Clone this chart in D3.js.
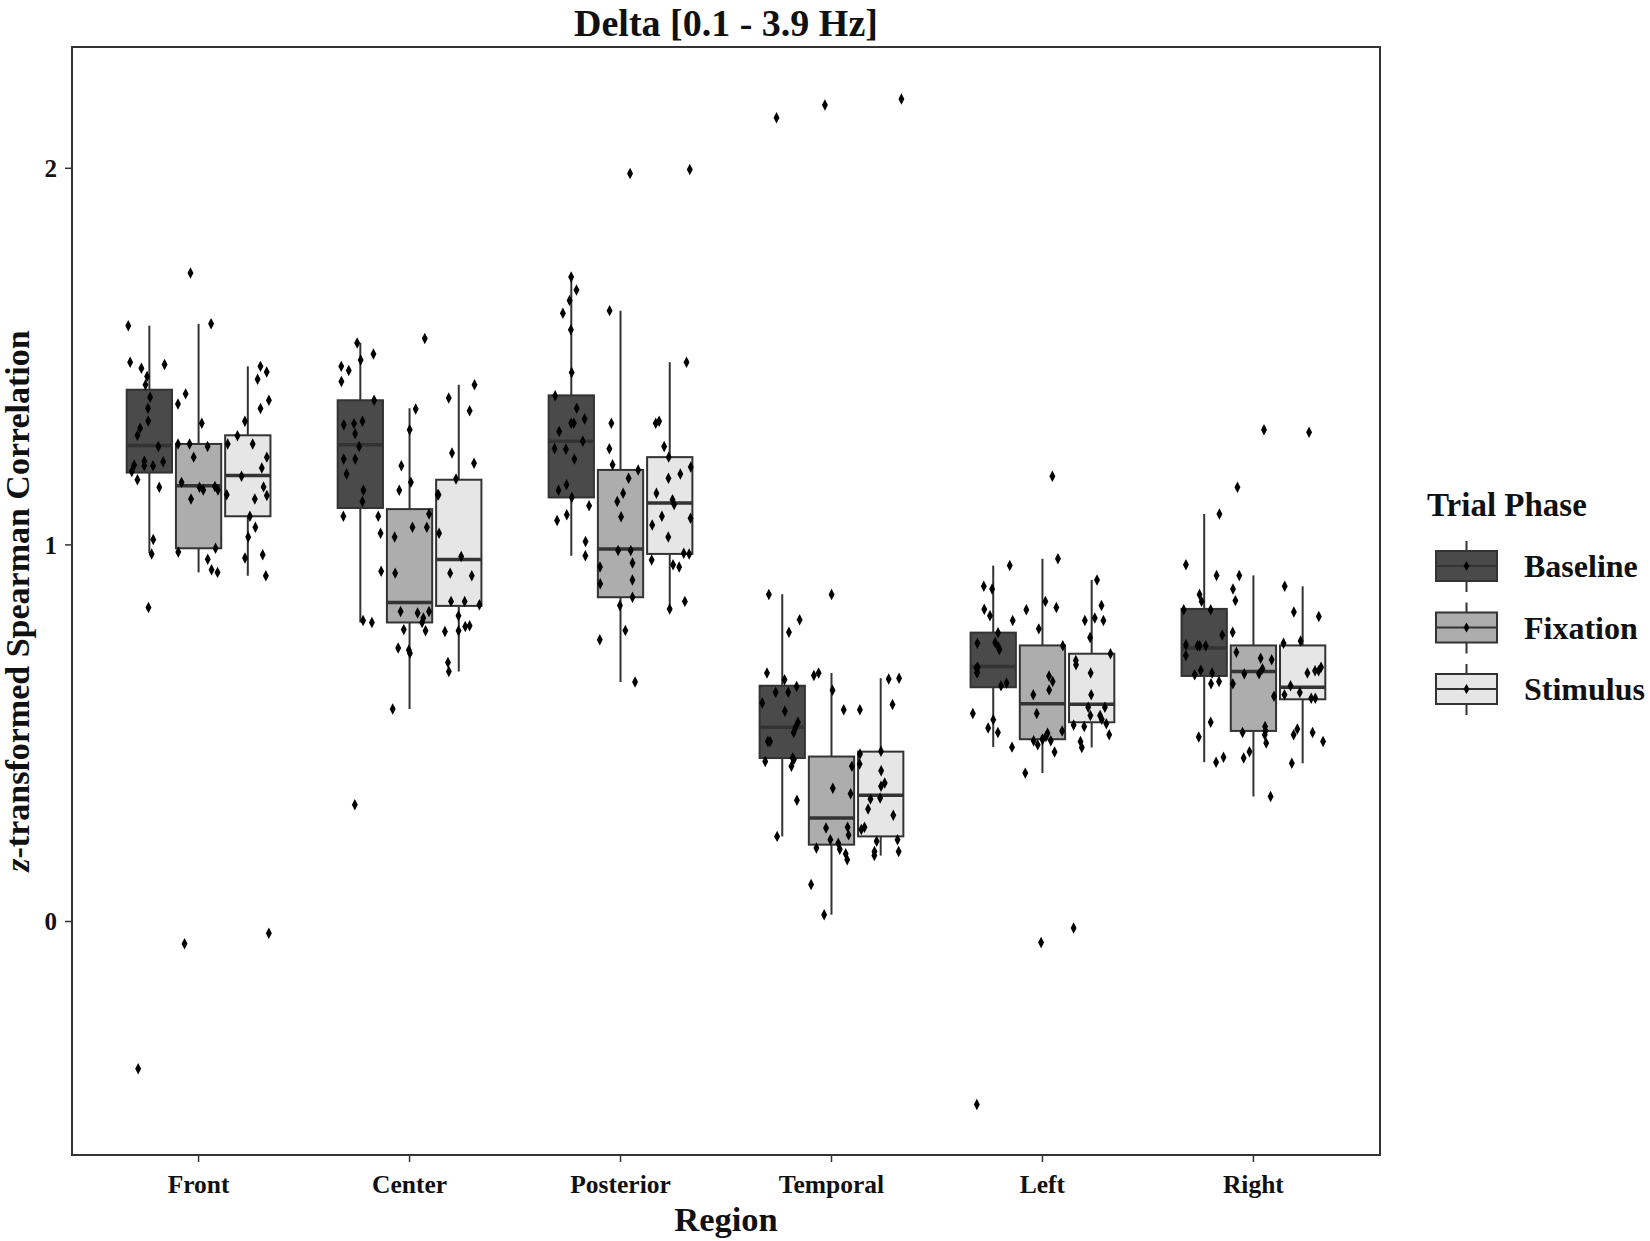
<!DOCTYPE html>
<html>
<head>
<meta charset="utf-8">
<script src="https://cdn.jsdelivr.net/npm/d3@7"></script>
<style>
  body { margin: 0; background: #fff; }
  text { font-family: "Liberation Serif", "Times New Roman", serif; font-weight: bold; fill: #111; }
</style>
</head>
<body>
<svg id="chart" width="1650" height="1241"></svg>
<script>
// categories
const regions = ['Front', 'Center', 'Posterior', 'Temporal', 'Left', 'Right'];
const phases = ['Baseline', 'Fixation', 'Stimulus'];
const yTicks = [0, 1, 2];

// box stats per region: [whisker low, q1, median, q3, whisker high]
const boxBaseline = [
  [0.978, 1.192, 1.264, 1.412, 1.582],
  [0.794, 1.098, 1.266, 1.384, 1.537],
  [0.971, 1.126, 1.275, 1.397, 1.711],
  [0.226, 0.434, 0.516, 0.626, 0.869],
  [0.463, 0.622, 0.677, 0.767, 0.945],
  [0.423, 0.652, 0.726, 0.830, 1.082]
];
const boxFixation = [
  [0.927, 0.991, 1.157, 1.268, 1.587],
  [0.564, 0.794, 0.847, 1.095, 1.363],
  [0.636, 0.861, 0.989, 1.199, 1.622],
  [0.018, 0.204, 0.275, 0.438, 0.660],
  [0.394, 0.484, 0.578, 0.733, 0.963],
  [0.332, 0.506, 0.664, 0.733, 0.919]
];
const boxStimulus = [
  [0.918, 1.076, 1.184, 1.291, 1.474],
  [0.664, 0.838, 0.961, 1.173, 1.425],
  [0.830, 0.976, 1.111, 1.233, 1.485],
  [0.175, 0.226, 0.335, 0.451, 0.646],
  [0.462, 0.529, 0.577, 0.711, 0.907],
  [0.420, 0.590, 0.622, 0.733, 0.890]
];

// individual observations per region: [Baseline, Fixation, Stimulus]
const ptsFront = [
  [1.582, 1.447, 1.469, 1.485, 1.479, 1.425, 1.392, 1.363, 1.329, 1.310, 1.291, 1.261, 1.212, 1.210, 1.210, 1.221, 1.222, 1.195, 1.173, 1.153, 1.014, 0.976, 0.834, -0.391],
  [1.722, 1.587, 1.374, 1.401, 1.323, 1.261, 1.268, 1.233, 1.155, 1.153, 1.166, 1.146, 1.146, 1.122, 0.991, 0.981, 0.962, 0.934, 0.927, 1.268, -0.059],
  [1.474, 1.459, 1.440, 1.384, 1.362, 1.328, 1.290, 1.268, 1.268, 1.233, 1.204, 1.182, 1.154, 1.133, 1.122, 1.131, 1.076, 1.047, 1.021, 0.974, 0.965, 0.918, -0.031]
];
const ptsCenter = [
  [1.536, 1.507, 1.491, 1.463, 1.474, 1.434, 1.384, 1.319, 1.322, 1.328, 1.295, 1.261, 1.228, 1.228, 1.188, 1.145, 1.115, 1.076, 1.076, 1.031, 0.930, 0.794, 0.799, 0.310],
  [1.548, 1.361, 1.306, 1.210, 1.166, 1.145, 1.082, 1.047, 1.047, 1.021, 0.925, 0.823, 0.819, 0.823, 0.806, 0.775, 0.772, 0.721, 0.712, 0.726, 0.564, 0.794],
  [1.425, 1.390, 1.356, 1.244, 1.217, 1.175, 1.133, 1.133, 1.031, 0.969, 0.925, 0.918, 0.850, 0.850, 0.841, 0.812, 0.785, 0.770, 0.783, 0.772, 0.688, 0.664]
];
const ptsPosterior = [
  [1.711, 1.677, 1.649, 1.615, 1.571, 1.458, 1.396, 1.363, 1.334, 1.323, 1.323, 1.301, 1.275, 1.254, 1.256, 1.228, 1.160, 1.145, 1.126, 1.104, 1.080, 1.065, 1.009, 0.971],
  [1.986, 1.622, 1.323, 1.255, 1.213, 1.199, 1.177, 1.137, 1.115, 1.075, 0.985, 0.985, 0.941, 0.952, 0.907, 0.897, 0.861, 0.839, 0.773, 0.748, 0.636],
  [1.997, 1.485, 1.328, 1.323, 1.261, 1.233, 1.207, 1.188, 1.177, 1.137, 1.120, 1.107, 1.071, 1.076, 1.053, 1.021, 0.976, 0.978, 0.960, 0.947, 0.941, 0.850, 0.830]
];
const ptsTemporal = [
  [2.134, 0.868, 0.801, 0.768, 0.660, 0.642, 0.609, 0.609, 0.624, 0.580, 0.558, 0.529, 0.514, 0.502, 0.478, 0.478, 0.434, 0.430, 0.425, 0.412, 0.322, 0.226],
  [2.168, 0.868, 0.660, 0.653, 0.614, 0.562, 0.412, 0.354, 0.339, 0.250, 0.248, 0.230, 0.217, 0.208, 0.192, 0.180, 0.195, 0.164, 0.098, 0.018],
  [2.184, 0.644, 0.646, 0.576, 0.562, 0.445, 0.452, 0.418, 0.400, 0.368, 0.359, 0.328, 0.325, 0.299, 0.282, 0.250, 0.244, 0.217, 0.213, 0.186, 0.186, 0.175]
];
const ptsLeft = [
  [0.945, 0.890, 0.883, 0.812, 0.829, 0.799, 0.767, 0.739, 0.741, 0.729, 0.722, 0.673, 0.675, 0.661, 0.661, 0.633, 0.626, 0.552, 0.536, 0.514, 0.502, 0.463, -0.486],
  [1.182, 0.963, 0.834, 0.850, 0.828, 0.777, 0.732, 0.652, 0.637, 0.615, 0.602, 0.552, 0.506, 0.500, 0.491, 0.484, 0.484, 0.480, 0.480, 0.469, 0.450, 0.394, -0.056],
  [0.907, 0.839, 0.806, 0.799, 0.799, 0.754, 0.711, 0.693, 0.682, 0.660, 0.602, 0.569, 0.569, 0.547, 0.547, 0.537, 0.525, 0.522, 0.518, 0.496, 0.478, 0.462, -0.017]
];
const ptsRight = [
  [1.082, 0.947, 0.919, 0.868, 0.850, 0.828, 0.828, 0.761, 0.732, 0.735, 0.732, 0.732, 0.706, 0.660, 0.655, 0.667, 0.631, 0.637, 0.529, 0.490, 0.423, 0.436],
  [1.306, 1.153, 0.919, 0.883, 0.852, 0.768, 0.715, 0.695, 0.699, 0.671, 0.658, 0.658, 0.631, 0.598, 0.502, 0.496, 0.518, 0.506, 0.474, 0.451, 0.434, 0.332],
  [1.299, 0.890, 0.822, 0.810, 0.739, 0.745, 0.666, 0.666, 0.675, 0.660, 0.626, 0.593, 0.602, 0.608, 0.593, 0.502, 0.478, 0.496, 0.511, 0.420]
];

const phaseFill = { Baseline: '#4a4a4a', Fixation: '#adadad', Stimulus: '#e6e6e6' };
const lineCol = '#333';

// panel bounds
const panelL = 72, panelR = 1380, panelT = 47, panelB = 1155;

const svg = d3.select('#chart');

const x = d3.scalePoint().domain(regions).range([panelL, panelR]).padding(0.6);
const step = x.step();
const dodge = d3.scaleBand().domain(phases)
  .range([-0.35 * step, 0.35 * step])
  .paddingInner(0.08).paddingOuter(0.04);
const y = d3.scaleLinear().domain([-0.62, 2.322]).range([panelB, panelT]);

const boxes = [boxBaseline, boxFixation, boxStimulus];
const points = [ptsFront, ptsCenter, ptsPosterior, ptsTemporal, ptsLeft, ptsRight];

// simple seeded jitter so the picture is stable between runs
let seed = 11;
const rand = () => (seed = (seed * 16807) % 2147483647) / 2147483647;

const plot = svg.append('g');

regions.forEach((reg, ri) => {
  phases.forEach((ph, pi) => {
    const [lo, q1, med, q3, hi] = boxes[pi][ri];
    const x0 = x(reg) + dodge(ph);
    const bw = dodge.bandwidth();
    const cx = x0 + bw / 2;
    const g = plot.append('g').attr('class', 'box');

    g.append('line')
      .attr('x1', cx).attr('x2', cx)
      .attr('y1', y(hi)).attr('y2', y(lo))
      .style('stroke', lineCol).style('stroke-width', 2);
    g.append('rect')
      .attr('x', x0).attr('width', bw)
      .attr('y', y(q3)).attr('height', y(q1) - y(q3))
      .style('fill', phaseFill[ph])
      .style('stroke', lineCol).style('stroke-width', 2);
    g.append('line')
      .attr('x1', x0).attr('x2', x0 + bw)
      .attr('y1', y(med)).attr('y2', y(med))
      .style('stroke', lineCol).style('stroke-width', 3.5);
  });
});

// jittered observations on top
regions.forEach((reg, ri) => {
  phases.forEach((ph, pi) => {
    const cx = x(reg) + dodge(ph) + dodge.bandwidth() / 2;
    points[ri][pi].forEach(v => {
      const jx = (rand() * 2 - 1) * 0.1 * step;
      plot.append('path')
        .attr('d', d3.symbol(d3.symbolDiamond, 38)())
        .attr('transform', `translate(${cx + jx},${y(v)}) scale(0.9,1)`)
        .style('fill', '#000');
    });
  });
});

// panel border
svg.append('rect')
  .attr('x', panelL).attr('y', panelT)
  .attr('width', panelR - panelL).attr('height', panelB - panelT)
  .style('fill', 'none').style('stroke', lineCol).style('stroke-width', 2);

// y axis
const yAxis = svg.append('g');
yTicks.forEach(t => {
  yAxis.append('line')
    .attr('x1', panelL - 7).attr('x2', panelL)
    .attr('y1', y(t)).attr('y2', y(t))
    .style('stroke', lineCol).style('stroke-width', 1.5);
  yAxis.append('text')
    .attr('x', panelL - 15).attr('y', y(t)).attr('dy', '0.35em')
    .attr('text-anchor', 'end').style('font-size', '25px')
    .text(t);
});

// x axis
const xAxis = svg.append('g');
regions.forEach(reg => {
  xAxis.append('line')
    .attr('x1', x(reg)).attr('x2', x(reg))
    .attr('y1', panelB).attr('y2', panelB + 7)
    .style('stroke', lineCol).style('stroke-width', 1.5);
  xAxis.append('text')
    .attr('x', x(reg)).attr('y', panelB + 38)
    .attr('text-anchor', 'middle').style('font-size', '25.5px')
    .text(reg);
});

// titles
svg.append('text')
  .attr('x', (panelL + panelR) / 2).attr('y', 36)
  .attr('text-anchor', 'middle').style('font-size', '38px')
  .text('Delta [0.1 - 3.9 Hz]');

svg.append('text')
  .attr('x', (panelL + panelR) / 2).attr('y', 1231)
  .attr('text-anchor', 'middle').style('font-size', '34.5px')
  .text('Region');

const yLab = svg.append('text')
  .attr('transform', `translate(29,${(panelT + panelB) / 2}) rotate(-90)`)
  .attr('text-anchor', 'middle').style('font-size', '34px');
yLab.append('tspan').style('font-style', 'italic').text('z');
yLab.append('tspan').text('-transformed Spearman Correlation');

// legend
const lg = svg.append('g');
lg.append('text')
  .attr('x', 1427).attr('y', 516)
  .style('font-size', '33px')
  .text('Trial Phase');

phases.forEach((ph, i) => {
  const cy = 566 + i * 61.5;
  const kx = 1436, kw = 61, kh = 30;
  const kcx = kx + kw / 2;
  lg.append('line')
    .attr('x1', kcx).attr('x2', kcx)
    .attr('y1', cy - kh / 2 - 10).attr('y2', cy + kh / 2 + 11)
    .style('stroke', lineCol).style('stroke-width', 2);
  lg.append('rect')
    .attr('x', kx).attr('y', cy - kh / 2)
    .attr('width', kw).attr('height', kh)
    .style('fill', phaseFill[ph])
    .style('stroke', lineCol).style('stroke-width', 2);
  lg.append('line')
    .attr('x1', kx).attr('x2', kx + kw)
    .attr('y1', cy).attr('y2', cy)
    .style('stroke', lineCol).style('stroke-width', 2);
  lg.append('path')
    .attr('d', d3.symbol(d3.symbolDiamond, 30)())
    .attr('transform', `translate(${kcx},${cy})`)
    .style('fill', '#000');
  lg.append('text')
    .attr('x', 1524).attr('y', cy).attr('dy', '0.35em')
    .style('font-size', '32px')
    .text(ph);
});
</script>
</body>
</html>
